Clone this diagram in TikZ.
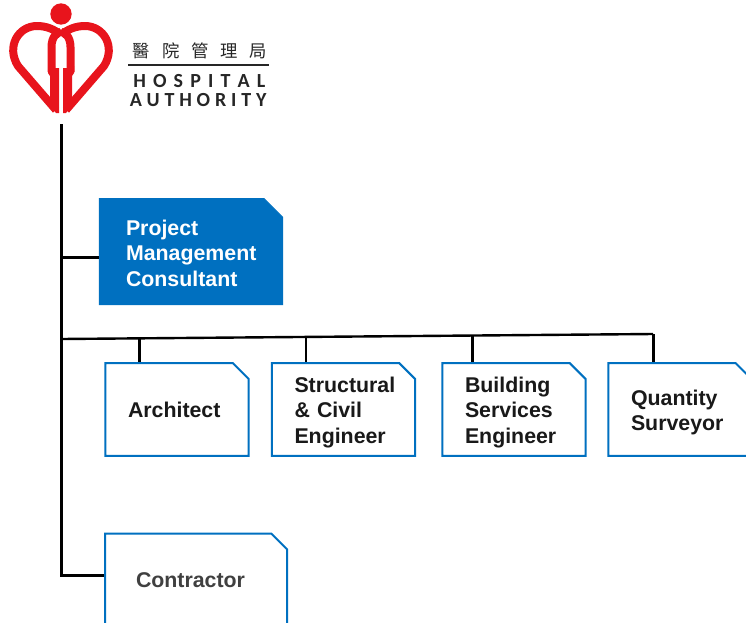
\documentclass[tikz,border=0pt]{standalone}
\usepackage{fontspec}
\setmainfont{Liberation Sans}
\newfontfamily\cjk{Noto Sans CJK TC}
\newfontfamily\logofont{Carlito}
\usetikzlibrary{shapes.misc}
\definecolor{habox}{HTML}{0070C0}
\definecolor{hared}{HTML}{E8141C}
\newcommand{\topgap}{\rule{0pt}{16pt}}
\begin{document}
\begin{tikzpicture}[
        x=0.75pt, y=-0.75pt,
        rolebox/.style={chamfered rectangle, chamfered rectangle corners=north east,
            chamfered rectangle xsep=6pt, chamfered rectangle ysep=6pt,
            draw=habox, line width=1.5pt, fill=white, inner sep=0pt,
            minimum width=107.6pt, minimum height=69.5pt, align=left, text width=73.5pt,
            text=black!90, font=\fontsize{16}{19.1}\selectfont\bfseries},
        link/.style={line width=2.25pt, black},
        buslink/.style={line width=1.8pt, black},
        thinlink/.style={line width=1.5pt, black},
        logoline/.style={hared, line width=6pt, line join=round},
        logotext/.style={inner sep=0pt, anchor=west, text=black!85}
    ]
        \clip (0,0) rectangle (746,622);

        % Logo
        \fill[hared] (61,14) circle (8pt) coordinate (loghead);
        \foreach \s in {1,-1} {
            \begin{scope}[shift={(61,0)}, xscale=\s]
                \draw[logoline] (-5,110) -- (-43,66) .. controls (-55,47) and (-43,26) .. (-24,26)
                    .. controls (-15,26) and (-7,29) .. (0,35);
                \draw[logoline] (-9.5,72) -- (-9.5,47) .. controls (-9.5,37) and (-4,32) .. (0,32);
                \fill[hared] (-13,66) -- (-6,66) -- (-6,68) -- (-2,68) -- (-2,113) -- (-5,113)
                    -- (-11,105) -- (-11,76) -- (-13,73) -- cycle;
            \end{scope}
        }
        \node[logotext] (logocn) at (132.7,50.5)
            {\cjk\fontsize{13}{15}\selectfont\makebox[100.5pt][s]{醫\hfill 院\hfill 管\hfill 理\hfill 局}};
        \node[logotext] (logohosp) at (133,80.7)
            {\logofont\bfseries\fontsize{15}{17}\selectfont\makebox[99pt][s]{H\hfill O\hfill S\hfill P\hfill I\hfill T\hfill A\hfill L}};
        \node[logotext] (logoauth) at (129.5,100.3)
            {\logofont\bfseries\fontsize{15}{17}\selectfont\makebox[102.5pt][s]{A\hfill U\hfill T\hfill H\hfill O\hfill R\hfill I\hfill T\hfill Y}};
        \coordinate (rulea) at (128,65);
        \coordinate (ruleb) at (269,65);
        \draw[line width=1.25pt, black!85] (rulea) -- (ruleb);

        % Boxes
        \node[rolebox, fill=habox, draw=habox, line width=0.75pt, text=white, minimum width=137.5pt, minimum height=79.5pt,
            text width=97.5pt, chamfered rectangle xsep=7pt, chamfered rectangle ysep=7pt]
            (project) at (191,251.5) {\rule{0pt}{14pt}Project\\Management\\Consultant};
        \foreach \name/\x/\txt in {arch/177/{Architect},
                struct/343.5/{\topgap Structural\\\& Civil\\Engineer},
                build/514/{\topgap Building\\Services\\Engineer},
                quant/680/{\topgap Quantity\\Surveyor}} {
            \node[rolebox] (\name) at (\x,409.5) {\txt};
        }
        \node[rolebox, text=black!75, minimum width=136.5pt, text width=90pt] (contractor) at (196,580) {Contractor};

        % Connections
        \coordinate (trunktop) at (61,124);
        \coordinate (trunkproject) at (61,257);
        \coordinate (trunkend) at (61,575);
        \coordinate (busstart) at (61,339);
        \coordinate (busend) at (653,334);
        \coordinate (busa) at (139,338.3);
        \coordinate (busb) at (306,337);
        \coordinate (busc) at (472,335.5);
        \draw[link] (trunktop) -- (trunkend) -- (trunkend -| contractor.west);
        \draw[link] (trunkproject) -- (trunkproject -| project.west);
        \draw[buslink] (busstart) -- (busend);
        \draw[link] (busend) -- (busend |- quant.north);
        \draw[link] (busa) -- (busa |- arch.north);
        \draw[thinlink] (busb) -- (busb |- struct.north);
        \draw[link] (busc) -- (busc |- build.north);
    \end{tikzpicture}
\end{document}
